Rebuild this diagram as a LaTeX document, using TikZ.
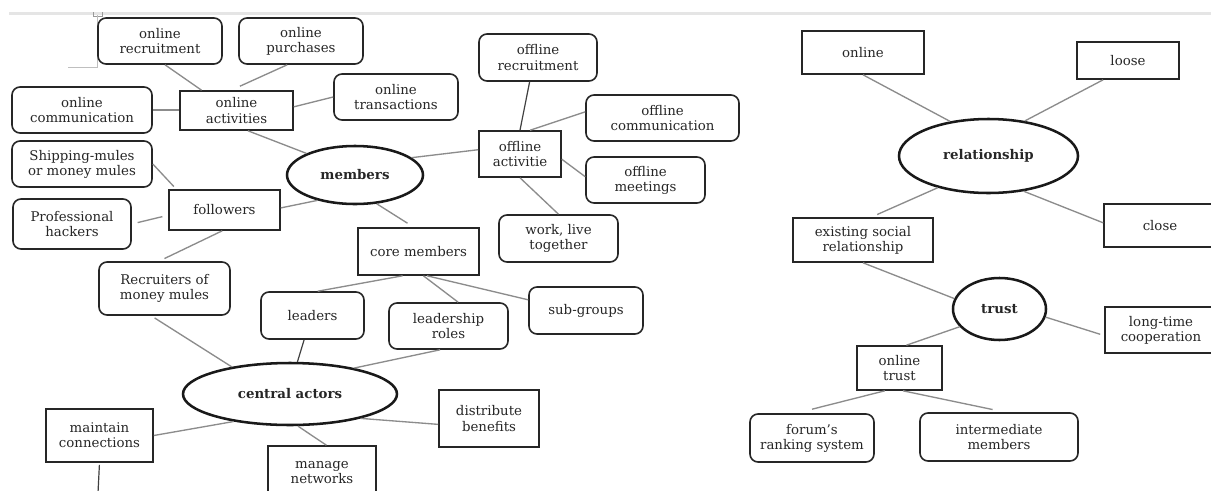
\documentclass[tikz,border=0pt]{standalone}
\usepackage{fontspec}
\setmainfont{DejaVu Serif}
\usetikzlibrary{shapes.geometric,calc}

\tikzset{
  sz/.style 2 args={minimum width=#1*0.75pt, minimum height=#2*0.75pt},
  rbox/.style={draw=black!85, line width=1.2pt, rounded corners=6pt},
  sbox/.style={draw=black!85, line width=1.2pt},
  oval/.style={ellipse, draw=black!90, line width=1.9pt, font=\fontsize{10}{11.3}\selectfont\bfseries},
  link/.style={draw=black!45, line width=1pt},
  dlink/.style={draw=black!75, line width=0.9pt},
}

\begin{document}
\begin{tikzpicture}[x=0.75pt,y=-0.75pt,
  every node/.style={font=\fontsize{10}{11.3}\selectfont, text=black!85, align=center, inner sep=0pt}]
\fill[white] (0,0) rectangle (1211,490);
\useasboundingbox (0,0) rectangle (1211,490);

% page header band and margin marks
\fill[black!10] (9,12) rectangle (1211,15);
\draw[black!40, line width=0.5pt] (93,12) -- (93,16) -- (102,16) -- (102,12);
\draw[black!25, line width=0.6pt] (68,67) -- (97,67) -- (97,15);

% ---------- members / central actors cluster ----------
\node[rbox, sz={124}{46}] (orec) at (160,41) {online\\recruitment};
\node[rbox, sz={124}{46}] (opur) at (301,41) {online\\purchases};
\node[rbox, sz={140}{46}] (ocom) at (82,110) {online\\communication};
\node[sbox, sz={113}{39}] (oact) at (236.5,110.5) {online\\activities};
\node[rbox, sz={124}{46}] (otra) at (396,97) {online\\transactions};
\node[rbox, sz={140}{46}] (ship) at (82,164) {Shipping-mules\\or money mules};
\node[rbox, sz={118}{50}] (hack) at (72,224) {Professional\\hackers};
\node[sbox, sz={111}{40}] (foll) at (224.5,210) {followers};
\node[oval, sz={136}{58}] (mem) at (355,175) {members};

\node[rbox, sz={118}{47}] (frec) at (538,57.5) {offline\\recruitment};
\node[rbox, sz={153}{46}] (fcom) at (662.5,118) {offline\\communication};
\node[sbox, sz={82}{46}] (fact) at (520,154) {offline\\activitie};
\node[rbox, sz={119}{46}] (fmeet) at (645.5,180) {offline\\meetings};
\node[rbox, sz={119}{47}] (work) at (558.5,238.5) {work, live\\together};
\node[sbox, sz={121}{47}] (core) at (418.5,251.5) {core members};

\node[rbox, sz={131}{53}] (recr) at (164.5,288.5) {Recruiters of\\money mules};
\node[rbox, sz={103}{47}] (lead) at (312.5,315.5) {leaders};
\node[rbox, sz={119}{46}] (lrol) at (448.5,326) {leadership\\roles};
\node[rbox, sz={114}{47}] (subg) at (586,310.5) {sub-groups};
\node[oval, sz={214}{62}] (cact) at (290,394) {central actors};
\node[sbox, sz={107}{53}] (mcon) at (99.5,435.5) {maintain\\connections};
\node[sbox, sz={108}{53}] (mnet) at (322,472.5) {manage\\networks};
\node[sbox, sz={100}{57}] (dben) at (489,418.5) {distribute\\benefits};
\coordinate (mconend) at (98,493);

% ---------- relationship / trust cluster ----------
\node[sbox, sz={122}{43}] (ronl) at (863,52.5) {online};
\node[sbox, sz={102}{37}] (loose) at (1128,60.5) {loose};
\node[oval, sz={179}{74}] (rel) at (988.5,156) {relationship};
\node[sbox, sz={112}{43}] (close) at (1160,225.5) {close};
\node[sbox, sz={140}{44}] (exist) at (863,240) {existing social\\relationship};
\node[oval, sz={93}{62}] (trust) at (999.5,309) {trust};
\node[sbox, sz={112}{46}] (ltc) at (1161,330) {long-time\\cooperation};
\node[sbox, sz={85}{44}] (otru) at (899.5,368) {online\\trust};
\node[rbox, sz={124}{48}] (forum) at (812,438) {forum’s\\ranking system};
\node[rbox, sz={158}{48}] (inter) at (999,437) {intermediate\\members};

% ---------- connectors ----------
\path[link] ($(orec.south west)!0.54!(orec.south east)$) -- ($(oact.north west)!0.195!(oact.north east)$);
\path[link] ($(opur.south west)!0.39!(opur.south east)$) -- ([yshift=3pt]$(oact.north west)!0.53!(oact.north east)$);
\path[link] (ocom.east) -- (ocom.east -| oact.west);
\path[link] ($(oact.north east)!0.41!(oact.south east)$) -- (otra.west);
\path[link] ($(oact.south west)!0.6!(oact.south east)$) -- (mem.156);
\path[link] (ship.east) -- ([yshift=2pt]$(foll.north west)!0.05!(foll.north east)$);
\path[link, shorten <=4.5pt, shorten >=4.5pt] (hack.east) -- ($(foll.north west)!0.625!(foll.south west)$);
\path[link] ($(foll.north east)!0.45!(foll.south east)$) -- (mem.214);
\path[link] ($(foll.south west)!0.48!(foll.south east)$) -- ([yshift=2pt]recr.north);
\path[link] (mem.17) -- ($(fact.north west)!0.41!(fact.south west)$);
\path[dlink] ($(frec.south west)!0.43!(frec.south east)$) -- (fact.north);
\path[link] ($(fact.north west)!0.62!(fact.north east)$) -- ($(fcom.north west)!0.37!(fcom.south west)$);
\path[link] ($(fact.north east)!0.61!(fact.south east)$) -- ($(fmeet.north west)!0.43!(fmeet.south west)$);
\path[link] (fact.south) -- (work.north);
\path[link] (mem.-53) -- ([yshift=3pt]$(core.north west)!0.41!(core.north east)$);
\path[link] ($(core.south west)!0.37!(core.south east)$) -- ($(lead.north west)!0.55!(lead.north east)$);
\path[link] ($(core.south west)!0.54!(core.south east)$) -- ($(lrol.north west)!0.58!(lrol.north east)$);
\path[link] ($(core.south west)!0.57!(core.south east)$) -- ($(subg.north west)!0.28!(subg.south west)$);
\path[link] ($(lrol.south west)!0.43!(lrol.south east)$) -- (cact.22);
\path[link, shorten <=3pt] ($(recr.south west)!0.4!(recr.south east)$) -- (cact.155);
\path[dlink] ($(lead.south west)!0.42!(lead.south east)$) -- (cact.77);
\path[link] (cact.206) -- (mcon.east);
\path[link] (cact.-76) -- ($(mnet.north west)!0.54!(mnet.north east)$);
\path[link] (cact.-19) -- ($(dben.north west)!0.6!(dben.south west)$);
\path[dlink, shorten <=1.5pt] (mcon.south) -- (mconend);

\path[link] (ronl.south) -- (rel.138);
\path[link] ($(loose.south west)!0.26!(loose.south east)$) -- (rel.44);
\path[link] (rel.212) -- ([yshift=2pt]$(exist.north west)!0.6!(exist.north east)$);
\path[link] (rel.-45) -- ($(close.north west)!0.44!(close.south west)$);
\path[link] (exist.south) -- (trust.167);
\path[link] (trust.-10) -- ([xshift=-3pt]$(ltc.north west)!0.59!(ltc.south west)$);
\path[link] (trust.204) -- ($(otru.north west)!0.58!(otru.north east)$);
\path[link] ($(otru.south west)!0.33!(otru.south east)$) -- ([yshift=3pt]forum.north);
\path[link] ($(otru.south west)!0.54!(otru.south east)$) -- ([yshift=2pt]$(inter.north west)!0.46!(inter.north east)$);
\end{tikzpicture}
\end{document}
